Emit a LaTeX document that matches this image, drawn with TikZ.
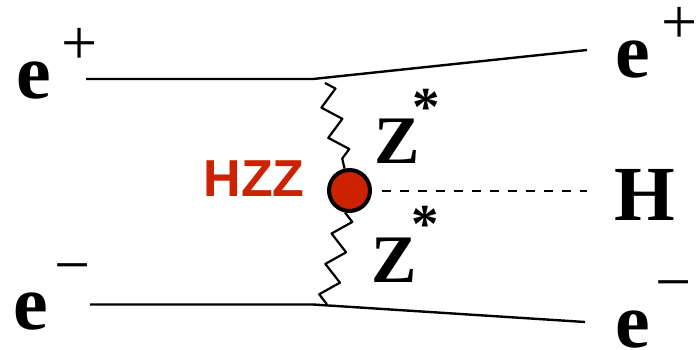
\documentclass[tikz,border=0pt]{standalone}
\usepackage{fontspec}
\setmainfont{Liberation Serif}
\newfontfamily\hzzfont{Liberation Sans}
\usetikzlibrary{decorations.pathmorphing}
\definecolor{hzzred}{RGB}{204,34,0}

\begin{document}
\begin{tikzpicture}[x=1pt, y=-1pt,
    fermion/.style={line width=2.4pt},
    boson/.style={line width=2.2pt, line join=round, decorate,
        decoration={zigzag, amplitude=9pt, segment length=31pt}},
    higgs/.style={line width=2pt, dash pattern=on 9pt off 9pt},
    particle/.style={inner sep=0pt, font=\fontsize{78}{78}\selectfont\bfseries},
    charge/.style={inner sep=0pt, font=\fontsize{64}{64}\selectfont},
    zlabel/.style={inner sep=0pt, font=\fontsize{68}{68}\selectfont\bfseries},
    astlabel/.style={inner sep=0pt, font=\fontsize{55}{55}\selectfont\bfseries},
    vertexdot/.style={circle, draw, line width=4pt, fill=hzzred,
        minimum size=41pt, inner sep=0pt}]
    \useasboundingbox (0,0) rectangle (698,350);
    \node[particle] (epIn) at (33.5,80.5) {e};
    \node[charge] (epInSign) at (79.5,46.5) {+};
    \node[particle] (emIn) at (31,311.5) {e};
    \node[charge] (emInSign) at (73,275) {\char"2212};
    \node[particle] (epOut) at (633,59.5) {e};
    \node[charge] (epOutSign) at (679.5,25.5) {+};
    \node[particle] (emOut) at (632.5,329.5) {e};
    \node[charge] (emOutSign) at (673.5,292) {\char"2212};
    \node[particle] (h) at (645,195) {H};
    \node[zlabel] (zTop) at (397,141.5) {Z};
    \node[astlabel] (zTopStar) at (426.5,107.5) {*};
    \node[zlabel] (zBot) at (394,260) {Z};
    \node[astlabel] (zBotStar) at (425,224) {*};
    \node[inner sep=0pt, text=hzzred,
        font=\hzzfont\fontsize{52}{52}\selectfont\bfseries] (hzzText) at (254,178.5) {HZZ};
    \node[vertexdot] (hzz) at (349.5,190.5) {};
    \coordinate (vTop) at (313,79);
    \coordinate (vBot) at (313,304.5);
    \coordinate (epInEnd) at (86,79);
    \coordinate (epOutEnd) at (587,50);
    \coordinate (emInEnd) at (90,304.5);
    \coordinate (emOutEnd) at (585,322);
    \coordinate (zTopEnd) at (325,83);
    \coordinate (zBotEnd) at (326,306);
    \draw[fermion] (epInEnd) -- (vTop) -- (epOutEnd);
    \draw[fermion] (emInEnd) -- (vBot) -- (emOutEnd);
    \draw[boson] (zTopEnd) -- (hzz);
    \draw[boson] (hzz) -- (zBotEnd);
    \draw[higgs, shorten <=10pt, shorten >=27pt] (hzz.east) -- (hzz.east -| h.west);
\end{tikzpicture}
\end{document}
